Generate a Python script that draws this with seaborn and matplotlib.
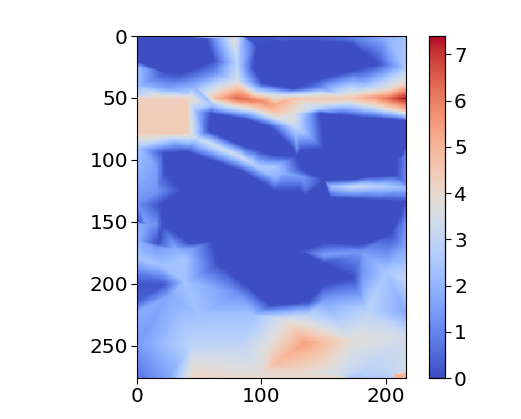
import numpy as np
import matplotlib
matplotlib.use("Agg")
import matplotlib.pyplot as plt
import matplotlib.tri as mtri
import seaborn as sns

# outlines of the flat near-zero regions
blue_a = [(0,2),(30,2),(55,2),(61,19),(35,30),(22,29),(0,20),(30,15)]
blue_b = [(96,8),(115,4),(140,3),(157,4),(173,6),(183,14),(193,22),(175,27),(147,34),(125,42),(101,38),(93,25),(130,20),(160,18)]
blue_c = [(59,62),(85,66),(107,73),(125,90),(111,96),(85,88),(57,76),(85,77),(128,97),(70,82),(97,92)]
blue_d = [(147,62),(163,63),(180,65),(197,66),(215,68),(215,90),(213,95),(208,100),(208,112),(190,113),(175,115),(150,116),(133,108),(131,92),(150,90),(180,90),(197,85)]
blue_e = [(21,94),(40,93),(60,100),(83,108),(97,116),(111,125),(131,124),(135,128),(155,130),(175,131),(195,132),(215,133),(211,144),(203,160),(181,168),
          (150,167),(130,162),(108,160),(130,173),(150,183),(173,195),(137,214),(107,217),(88,201),(65,184),(43,167),(16,167),(20,152),(0,149),(18,136),(35,124),(22,110),
          (60,130),(80,140),(100,150),(150,150),(190,150),(60,165),(85,180),(100,190),(125,190),(150,200)]

# (x, y, value) readings elsewhere
pts_top = [(0,0,.3),(30,0,.2),(56,0,4.0),(70,0,3.2),(80,0,4.0),(87,0,.1),(97,0,.2),(115,0,.6),(140,0,.6),(173,0,1.0),(200,0,2.0),(215,0,2.3),
           (70,2,2.5),(78,2,3.9),(86,2,1.6),
           (80,22,2.8),(215,25,2.4),(0,25,2.2),(62,28,1.0),(80,36,3.5),(215,38,4.2)]
pts_ridge = [(0,40,2.2),(25,42,1.6),(45,40,1.8),(0,47,2.8),(40,47,2.8),(0,50,4.3),(20,50,4.3),(40,50,4.3),(62,50,4.8),(70,44,4.5),(80,50,6.4),(90,51,6.2),(100,52,5.8),(111,55,5.2),(118,52,5.0),(125,50,4.7),
             (100,46,3.5),(111,47,3.3),(125,47,3.2),(147,46,3.5),(147,53,4.1),(95,57,4.6),(111,60,4.8),
             (147,50,4.4),(170,50,4.6),(190,49,5.5),(200,50,6.2),(207,50,6.8),(215,50,7.4),(190,56,3.8),(215,60,4.5),(147,58,2.6),(190,60,2.2),(200,42,3.8),(200,58,4.0),
             (111,65,3.8),(125,62,3.8),(127,72,3.2),(128,90,1.2),(47,60,2.2),(60,55,2.4),(85,58,3.6),(147,41,1.0),(183,38,2.0),(190,42,3.2)]
pts_mid = [(0,65,4.4),(40,65,4.4),(0,78,4.4),(20,78,4.4),(40,78,4.4),(0,90,2.3),(30,86,1.7),(48,82,3.0),(60,87,3.4),(71,92,3.3),(83,97,3.3),(90,101,3.0),(97,105,2.6),(111,105,2.4),(111,114,1.9),(118,110,1.8),(131,113,1.4),
           (215,96,.8),(215,118,1.0),(135,122,.9),(155,121,2.2),(175,121,3.2),(195,121,2.8),(215,122,2.2)]
pts_low = [(0,105,2.0),(15,105,1.5),(0,135,1.2),(15,125,1.3),(215,150,1.0),
           (0,151,1.8),(8,152,1.5),(15,151,1.2),(0,165,1.9),(15,170,1.4),(30,171,1.7),(45,171,1.4),(215,170,1.6),
           (150,176,1.5),(181,174,1.4),(181,192,1.3),(200,190,2.4),(215,195,3.0),
           (0,178,2.4),(20,185,2.3),(38,180,2.4),(0,190,1.0),(0,200,.15),(21,200,.2),(0,214,.4),(25,210,1.7),(38,198,2.3),(80,208,1.3)]
pts_bot = [(0,222,1.8),(50,225,2.3),(93,225,2.3),(118,228,3.6),(137,225,3.0),(150,214,1.6),(185,222,2.9),(215,222,1.7),(215,243,3.4),(173,245,3.8),(135,247,5.4),
           (0,248,1.4),(43,249,2.9),(85,250,3.0),(105,250,3.8),(111,263,4.8),(0,275,.7),(25,275,1.6),(45,270,4.0),(100,272,3.9),(130,272,4.0),(165,272,3.3),(170,275,2.6),(165,275,3.9),
           (187,267,2.9),(207,272,3.1),(215,271,3.4),(207,273,5.0),(206,275,2.8),(207,275,5.0),(215,272,5.0),(215,275,5.1),(45,275,4.2),(95,275,3.9)]

tick_x = [0, 100, 200]
tick_y = [0, 50, 100, 150, 200, 250]
tick_c = [0, 1, 2, 3, 4, 5, 6, 7]

zero_pts = [(x, y, 0.03) for x, y in blue_a + blue_b + blue_c + blue_d + blue_e]
all_pts = np.array(zero_pts + pts_top + pts_ridge + pts_mid + pts_low + pts_bot, float)
tri = mtri.Triangulation(all_pts[:, 0], all_pts[:, 1])
interp = mtri.LinearTriInterpolator(tri, all_pts[:, 2])
gx, gy = np.meshgrid(np.arange(216) + .0, np.arange(276) + .0)
Z = np.ma.filled(interp(gx, gy), 0.0)
Z = np.clip(Z, 0, 7.4)

sns.set_style("ticks")
plt.rcParams.update({"font.family": "DejaVu Sans", "xtick.color": "black", "ytick.color": "black",
                     "axes.edgecolor": "black", "text.color": "black"})
W, H = 521, 419
fig = plt.figure(figsize=(W/100, H/100), dpi=100)
ax = fig.add_axes([137/W, 1-378/H, 268.5/W, 342/H])
cax = fig.add_axes([429/W, 1-378/H, 16/W, 342/H])
sns.heatmap(Z, ax=ax, cbar_ax=cax, cmap=sns.color_palette("coolwarm", as_cmap=True), vmin=0, vmax=7.4,
            xticklabels=False, yticklabels=False, rasterized=True)
ax.set_xticks(tick_x); ax.set_xticklabels(tick_x, rotation=0)
ax.set_yticks(tick_y); ax.set_yticklabels(tick_y, rotation=0)
ax.tick_params(labelsize=14.5, length=4, width=.8, bottom=True, left=True, pad=2.5)
for s in ax.spines.values():
    s.set_visible(True); s.set_linewidth(.8); s.set_color("black")
cax.set_yticks(tick_c); cax.set_yticklabels(tick_c)
cax.tick_params(labelsize=14.5, length=4, width=.8, right=True, pad=2.5)
for s in cax.spines.values():
    s.set_visible(True); s.set_linewidth(.8); s.set_color("black")
fig.savefig("out.png", dpi=100)
